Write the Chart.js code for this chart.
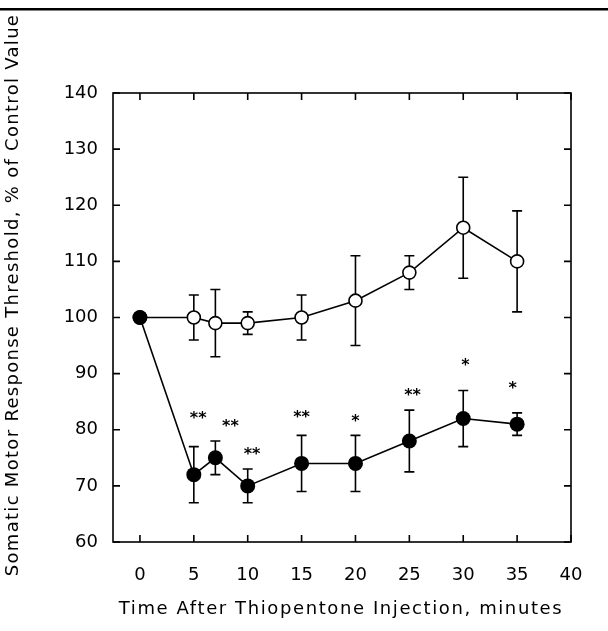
<!DOCTYPE html>
<html>
<head>
<meta charset="utf-8">
<script src="https://cdn.jsdelivr.net/npm/chart.js@4.4.1/dist/chart.umd.min.js"></script>
<style>
  html, body { margin: 0; padding: 0; background: #fff; }
  #wrap { width: 608px; height: 631px; }
</style>
</head>
<body>
<div id="wrap"><canvas id="myChart" width="608" height="631"></canvas></div>
<script>
// time points, minutes
const times = [0, 5, 7, 10, 15, 20, 25, 30, 35];
// thiopentone group (filled) and control group (open), % of control value
const thioMean = [100, 72, 75, 70, 74, 74, 78, 82, 81];
const thioErr  = [0, 5, 3, 3, 5, 5, 5.5, 5, 2];
const ctrlMean = [100, 100, 99, 99, 100, 103, 108, 116, 110];
const ctrlErr  = [0, 4, 6, 2, 4, 8, 3, 9, 9];
// significance marks above the filled series
const sigText = ['**', '**', '**', '**', '*', '**', '*', '*'];
const sigX    = [5.4, 8.4, 10.4, 15, 20, 25.3, 30.2, 34.6];
const sigY    = [82.5, 81, 76, 82.6, 82, 86.6, 92, 87.8];
const xTicks = [0, 5, 10, 15, 20, 25, 30, 35, 40];
const yTicks = [60, 70, 80, 90, 100, 110, 120, 130, 140];
const xTitle = 'Time After Thiopentone Injection, minutes';
const yTitle = 'Somatic Motor Response Threshold, % of Control Value';

const FONT = '"DejaVu Sans", sans-serif';

// error bars, drawn under the markers
const errorBars = {
  id: 'errorBars',
  beforeDatasetsDraw(chart) {
    const ctx = chart.ctx;
    const xs = chart.scales.x, ys = chart.scales.y;
    ctx.save();
    ctx.strokeStyle = '#000';
    ctx.lineWidth = 1.6;
    chart.data.datasets.forEach(ds => {
      ds.data.forEach((p, i) => {
        const e = ds.errors[i];
        if (!e) return;
        const x = xs.getPixelForValue(p.x);
        const y1 = ys.getPixelForValue(p.y + e);
        const y2 = ys.getPixelForValue(p.y - e);
        ctx.beginPath();
        ctx.moveTo(x, y1); ctx.lineTo(x, y2);
        ctx.moveTo(x - 5, y1); ctx.lineTo(x + 5, y1);
        ctx.moveTo(x - 5, y2); ctx.lineTo(x + 5, y2);
        ctx.stroke();
      });
    });
    ctx.restore();
  }
};

// frame with inward ticks, stars, axis titles, page rule
const frame = {
  id: 'frame',
  afterDraw(chart) {
    const ctx = chart.ctx;
    const a = chart.chartArea;
    const xs = chart.scales.x, ys = chart.scales.y;
    ctx.save();
    ctx.strokeStyle = '#000';
    ctx.lineWidth = 1.6;
    ctx.strokeRect(a.left, a.top, a.right - a.left, a.bottom - a.top);
    ctx.beginPath();
    xTicks.forEach(v => {
      const x = xs.getPixelForValue(v);
      ctx.moveTo(x, a.bottom); ctx.lineTo(x, a.bottom - 7);
      ctx.moveTo(x, a.top); ctx.lineTo(x, a.top + 7);
    });
    yTicks.forEach(v => {
      const y = ys.getPixelForValue(v);
      ctx.moveTo(a.left, y); ctx.lineTo(a.left + 7, y);
      ctx.moveTo(a.right, y); ctx.lineTo(a.right - 7, y);
    });
    ctx.stroke();

    ctx.fillStyle = '#000';
    ctx.font = 'bold 16px ' + FONT;
    ctx.textAlign = 'center';
    ctx.textBaseline = 'middle';
    sigText.forEach((t, i) => {
      ctx.fillText(t, xs.getPixelForValue(sigX[i]), ys.getPixelForValue(sigY[i]) + 3);
    });

    // axis titles, spaced out like the original lettering
    ctx.font = '18px ' + FONT;
    ctx.letterSpacing = '1.6px';
    ctx.fillText(xTitle, 341, 609);
    ctx.letterSpacing = '1.3px';
    ctx.translate(13, 295);
    ctx.rotate(-Math.PI / 2);
    ctx.fillText(yTitle, 0, 0);
    ctx.restore();

    // rule across top of page
    ctx.save();
    ctx.fillStyle = '#000';
    ctx.fillRect(0, 8, chart.width, 2.5);
    ctx.restore();
  }
};

new Chart('myChart', {
  type: 'line',
  data: {
    datasets: [{
      label: 'Thiopentone',
      data: times.map((t, i) => ({ x: t, y: thioMean[i] })),
      errors: thioErr,
      borderColor: '#000',
      borderWidth: 1.6,
      pointRadius: 7.5,
      pointBackgroundColor: '#000',
      pointBorderColor: '#000',
      pointBorderWidth: 0,
      tension: 0
    }, {
      label: 'Control',
      data: times.map((t, i) => ({ x: t, y: ctrlMean[i] })),
      errors: ctrlErr,
      borderColor: '#000',
      borderWidth: 1.6,
      pointRadius: 6.5,
      pointBackgroundColor: '#fff',
      pointBorderColor: '#000',
      pointBorderWidth: 1.6,
      tension: 0
    }]
  },
  options: {
    responsive: false,
    animation: false,
    layout: { padding: { left: 0, right: 37, top: 93, bottom: 0 } },
    plugins: { legend: { display: false }, tooltip: { enabled: false } },
    scales: {
      x: {
        type: 'linear',
        min: -2.5,
        max: 40,
        afterBuildTicks: s => { s.ticks = xTicks.map(v => ({ value: v })); },
        afterFit: s => { s.height = 89; },
        grid: { display: false, drawTicks: false },
        border: { display: false },
        ticks: { color: '#000', font: { family: FONT, size: 18 }, padding: 23, maxRotation: 0 }
      },
      y: {
        min: 60,
        max: 140,
        afterBuildTicks: s => { s.ticks = yTicks.map(v => ({ value: v })); },
        afterFit: s => { s.width = 113; },
        grid: { display: false, drawTicks: false },
        border: { display: false },
        ticks: { color: '#000', font: { family: FONT, size: 18 }, padding: 15 }
      }
    }
  },
  plugins: [errorBars, frame]
});
</script>
</body>
</html>
